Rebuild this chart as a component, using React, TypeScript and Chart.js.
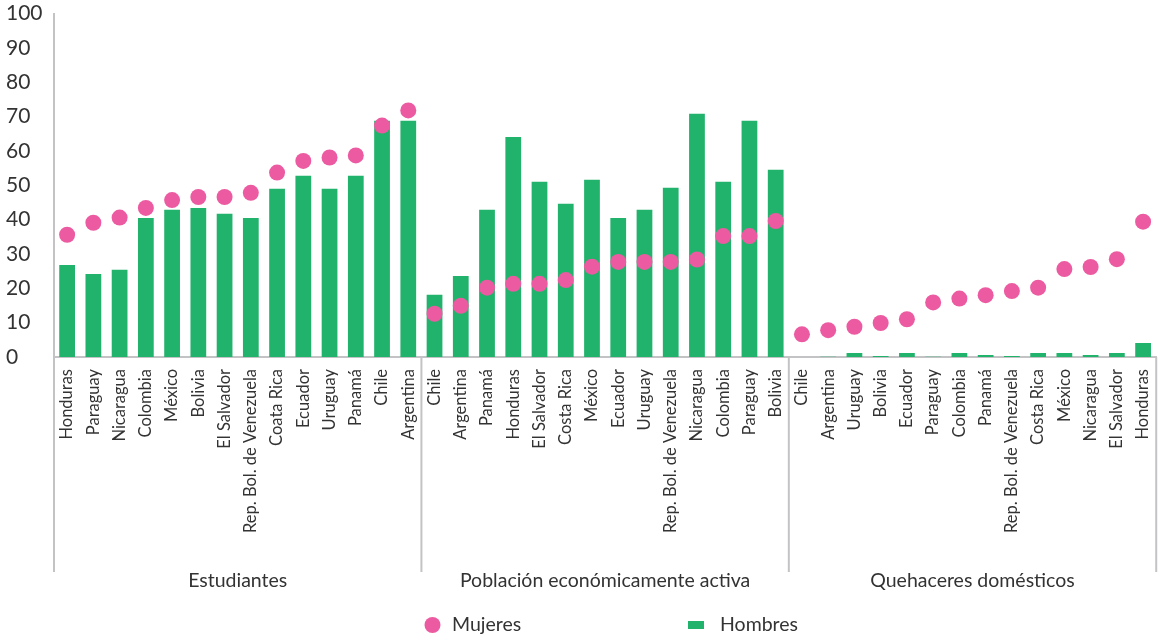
import React, { useEffect, useRef } from 'react';
import { Chart, registerables } from 'chart.js';

Chart.register(...registerables);

const FONT = 'Lato, "Open Sans", sans-serif';
const GREEN = '#21B26B';
const PINK = '#EC5BA1';
const TEXT = '#333333';
const AXIS = '#C3C3C6';

const groupNames = ['Estudiantes', 'Población económicamente activa', 'Quehaceres domésticos'];
const seriesNames = ['Mujeres', 'Hombres'];

const estudiantesPaises = ['Honduras', 'Paraguay', 'Nicaragua', 'Colombia', 'México', 'Bolivia', 'El Salvador', 'Rep. Bol. de Venezuela', 'Coata Rica', 'Ecuador', 'Uruguay', 'Panamá', 'Chile', 'Argentina'];
const estudiantesMujeres = [35.6, 39.1, 40.6, 43.4, 45.7, 46.6, 46.6, 47.8, 53.7, 57.1, 58.1, 58.7, 67.4, 71.8];
const estudiantesHombres = [26.8, 24.2, 25.4, 40.5, 42.9, 43.4, 41.7, 40.5, 49.0, 52.8, 49.0, 52.8, 68.8, 68.8];

const peaPaises = ['Chile', 'Argentina', 'Panamá', 'Honduras', 'El Salvador', 'Costa Rica', 'México', 'Ecuador', 'Uruguay', 'Rep. Bol. de Venezuela', 'Nicaragua', 'Colombia', 'Paraguay', 'Bolivia'];
const peaMujeres = [12.6, 14.9, 20.2, 21.3, 21.3, 22.4, 26.3, 27.7, 27.7, 27.7, 28.4, 35.2, 35.2, 39.6];
const peaHombres = [18.1, 23.6, 42.9, 64.1, 51.0, 44.6, 51.6, 40.5, 42.9, 49.3, 70.8, 51.0, 68.8, 54.5];

const quehaceresPaises = ['Chile', 'Argentina', 'Uruguay', 'Bolivia', 'Ecuador', 'Paraguay', 'Colombia', 'Panamá', 'Rep. Bol. de Venezuela', 'Costa Rica', 'México', 'Nicaragua', 'El Salvador', 'Honduras'];
const quehaceresMujeres = [6.6, 7.8, 8.8, 9.9, 11.0, 15.9, 17.0, 18.0, 19.2, 20.2, 25.6, 26.2, 28.5, 39.4];
const quehaceresHombres = [0, 0.1, 1.2, 0.3, 1.2, 0.1, 1.2, 0.6, 0.3, 1.2, 1.2, 0.6, 1.2, 4.1];

const yTicks = [0, 10, 20, 30, 40, 50, 60, 70, 80, 90, 100];

const groupSizes = [estudiantesPaises.length, peaPaises.length, quehaceresPaises.length];
const labels = [...estudiantesPaises, ...peaPaises, ...quehaceresPaises];
const mujeres = [...estudiantesMujeres, ...peaMujeres, ...quehaceresMujeres];
const hombres = [...estudiantesHombres, ...peaHombres, ...quehaceresHombres];

const groupPlugin = {
  id: 'groupsAndLegend',
  afterDraw(chart: any) {
    const { ctx, chartArea, scales } = chart;
    const x = scales.x;
    const half = (x.getPixelForValue(1) - x.getPixelForValue(0)) / 2;
    const bounds: number[] = [x.getPixelForValue(0) - half];
    let idx = 0;
    groupSizes.forEach((s) => {
      idx += s;
      bounds.push(x.getPixelForValue(idx - 1) + half);
    });
    const top = chartArea.bottom;
    const lineBottom = 572;
    ctx.save();
    ctx.strokeStyle = AXIS;
    ctx.lineWidth = 2;
    bounds.forEach((b) => {
      ctx.beginPath();
      ctx.moveTo(b, top);
      ctx.lineTo(b, lineBottom);
      ctx.stroke();
    });
    ctx.fillStyle = TEXT;
    ctx.font = `19.5px ${FONT}`;
    ctx.textAlign = 'center';
    ctx.textBaseline = 'middle';
    groupNames.forEach((g, i) => {
      ctx.fillText(g, (bounds[i] + bounds[i + 1]) / 2, 581);
    });
    // legend
    const ly = 625;
    ctx.fillStyle = PINK;
    ctx.beginPath();
    ctx.arc(432.5, ly, 8, 0, Math.PI * 2);
    ctx.fill();
    ctx.fillStyle = GREEN;
    ctx.fillRect(688, ly - 4, 16, 8);
    ctx.fillStyle = TEXT;
    ctx.textAlign = 'left';
    ctx.fillText(seriesNames[0], 452, ly);
    ctx.fillText(seriesNames[1], 720, ly);
    ctx.restore();
  },
};

export default function App() {
  const canvasRef = useRef<HTMLCanvasElement | null>(null);

  useEffect(() => {
    document.body.style.margin = '0';
    const canvas = canvasRef.current;
    if (!canvas) return;
    Chart.defaults.font.family = FONT;
    const chart = new Chart(canvas, {
      type: 'bar',
      data: {
        labels,
        datasets: [
          {
            type: 'line',
            label: seriesNames[0],
            data: mujeres,
            showLine: false,
            pointRadius: 8,
            pointHoverRadius: 8,
            pointBorderWidth: 0,
            pointBackgroundColor: PINK,
            backgroundColor: PINK,
            borderColor: PINK,
          } as any,
          {
            type: 'bar',
            label: seriesNames[1],
            data: hombres,
            backgroundColor: GREEN,
            barPercentage: 0.6,
            categoryPercentage: 1.0,
          },
        ],
      },
      options: {
        responsive: true,
        maintainAspectRatio: false,
        animation: false,
        layout: { padding: { top: 0, right: 5, left: 6, bottom: 0 } },
        plugins: {
          legend: { display: false },
          tooltip: { enabled: false },
        },
        scales: {
          x: {
            grid: { display: false },
            border: { display: true, color: AXIS, width: 2 },
            ticks: {
              autoSkip: false,
              minRotation: 90,
              maxRotation: 90,
              padding: 4,
              color: TEXT,
              font: { size: 16.5, family: FONT },
            },
            afterFit: (s: any) => {
              s.height = 642 - 357;
            },
          },
          y: {
            min: 0,
            max: 100,
            afterBuildTicks: (s: any) => {
              s.ticks = yTicks.map((v) => ({ value: v }));
            },
            grid: { display: false },
            border: { display: true, color: AXIS, width: 2 },
            ticks: {
              color: TEXT,
              padding: 1,
              crossAlign: 'far',
              font: { size: 21, family: FONT },
            },
            afterFit: (s: any) => {
              s.width = 48;
            },
          },
        },
      },
      plugins: [groupPlugin],
    });
    return () => chart.destroy();
  }, []);

  return (
    <div style={{ width: 1167, height: 642, position: 'relative' }}>
      <canvas ref={canvasRef} />
    </div>
  );
}
